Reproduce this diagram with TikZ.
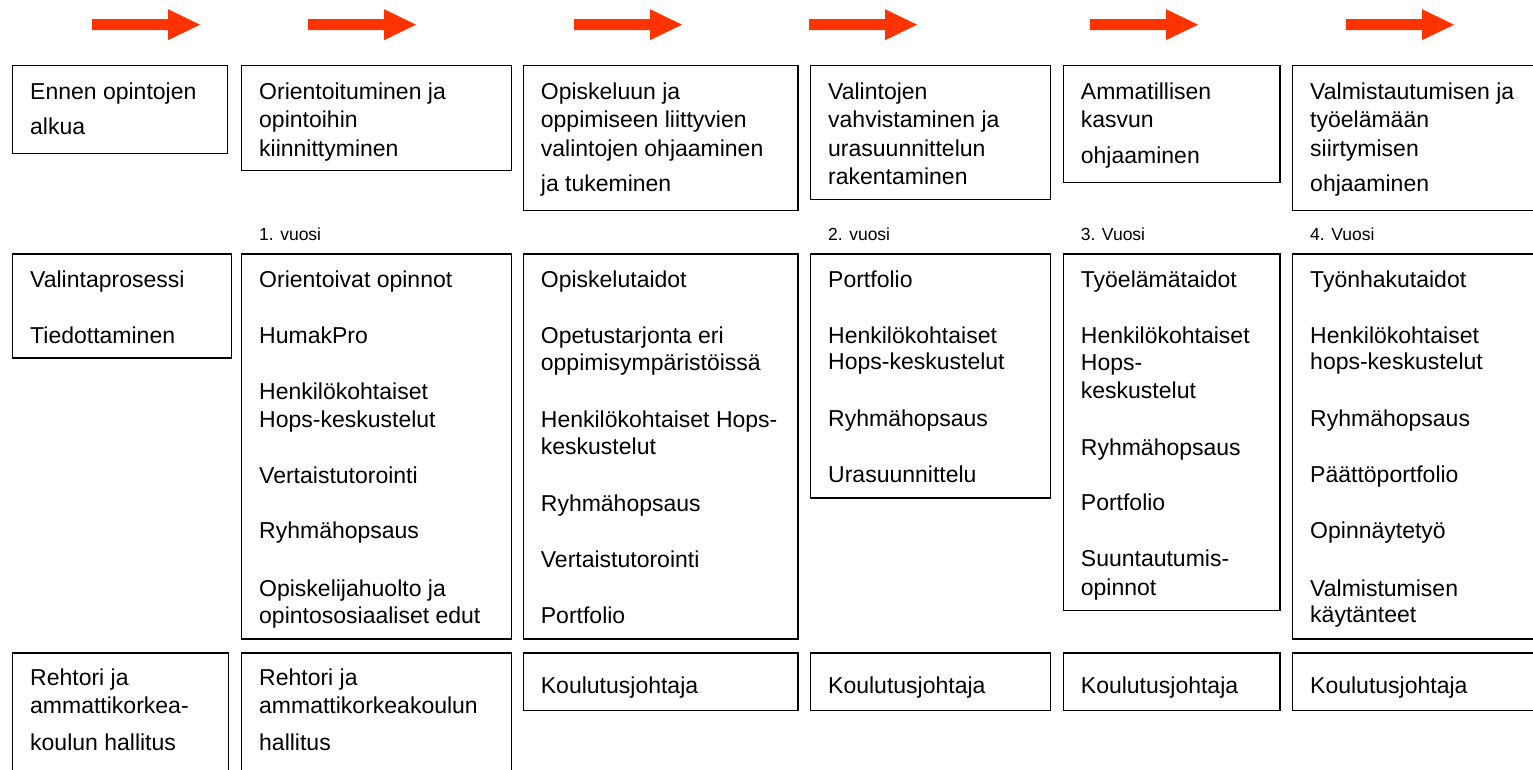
\documentclass[tikz,border=0pt]{standalone}
\usepackage{fontspec}
\setmainfont{Liberation Sans}
\definecolor{arrowred}{RGB}{255,51,0}
\tikzset{
  box/.style={draw, line width=1.2pt, anchor=north west, inner sep=0pt},
  txt/.style={anchor=base west, inner sep=0pt, font=\fontsize{23}{27}\selectfont},
  yr/.style={anchor=base west, inner sep=0pt, font=\fontsize{17.5}{20}\selectfont},
  flow/.style={fill=arrowred}
}
\newcommand\boxlines[3]{\foreach \yv/\ltext [count=\lnum] in {#3} \node[txt] (#1-\lnum) at (#2,\yv) {\ltext};}
\begin{document}
\begin{tikzpicture}[x=1pt,y=-1pt]
\useasboundingbox (0,0) rectangle (1533,770);
\clip (0,0) rectangle (1533,770);
% arrows
\foreach \ax [count=\an] in {92,308,574,809,1090,1346}{
  \coordinate (arr\an) at (\ax,24.5);
  \fill[flow] (arr\an) ++(0,-5.3) -- ++(76,0) -- ++(0,-10) -- ++(32,15.5) -- ++(-32,15.5) -- ++(0,-10) -- ++(-76,0) -- cycle;
}
% row 1
\node[box, minimum width=215pt, minimum height=88pt] (B1) at (12,65) {};
\node[box, minimum width=270pt, minimum height=105pt] (B2) at (241,65) {};
\node[box, minimum width=274.6pt, minimum height=145pt] (B3) at (522.7,65) {};
\node[box, minimum width=240pt, minimum height=134pt] (B4) at (810,65) {};
\node[box, minimum width=216.6pt, minimum height=116.7pt] (B5) at (1062.7,65) {};
\node[box, minimum width=260pt, minimum height=145pt] (B6) at (1292,65) {};
\boxlines{b1}{30}{99.3/Ennen opintojen, 135/alkua}
\boxlines{b2}{259}{99.3/Orientoituminen ja, 127.7/opintoihin, 156.7/kiinnittyminen}
\boxlines{b3}{540.7}{99.3/Opiskeluun ja, 127.7/oppimiseen liittyvien, 156.7/valintojen ohjaaminen, 191.7/ja tukeminen}
\boxlines{b4}{828}{99.3/Valintojen, 127.7/vahvistaminen ja, 156.7/urasuunnittelun, 184.3/rakentaminen}
\boxlines{b5}{1080.7}{99.3/Ammatillisen, 127.7/kasvun, 163.3/ohjaaminen}
\boxlines{b6}{1310}{99.3/Valmistautumisen ja, 127.7/työelämään, 156.7/siirtymisen, 191.7/ohjaaminen}
% year labels
\node[yr] (y1) at (259,240) {1. vuosi};
\node[yr] (y2) at (828,240) {2. vuosi};
\node[yr] (y3) at (1080.7,240) {3. Vuosi};
\node[yr] (y4) at (1310,240) {4. Vuosi};
% row 2
\node[box, minimum width=218.7pt, minimum height=104pt] (C1) at (12,253.3) {};
\node[box, minimum width=270pt, minimum height=385pt] (C2) at (241,253.3) {};
\node[box, minimum width=274.6pt, minimum height=385pt] (C3) at (522.7,253.3) {};
\node[box, minimum width=240pt, minimum height=244pt] (C4) at (810,253.3) {};
\node[box, minimum width=216.6pt, minimum height=356.7pt] (C5) at (1062.7,253.3) {};
\node[box, minimum width=260pt, minimum height=385pt] (C6) at (1292,253.3) {};
\boxlines{c1}{30}{287/Valintaprosessi, 343.5/Tiedottaminen}
\boxlines{c2}{259}{287/Orientoivat opinnot, 343/HumakPro, 399.5/Henkilökohtaiset, 427/Hops-keskustelut, 483/Vertaistutorointi, 538.5/Ryhmähopsaus, 596/Opiskelijahuolto ja, 623/opintososiaaliset edut}
\boxlines{c3}{540.7}{287/Opiskelutaidot, 343/Opetustarjonta eri, 370/oppimisympäristöissä, 427/Henkilökohtaiset Hops-, 454.5/keskustelut, 511/Ryhmähopsaus, 567/Vertaistutorointi, 623/Portfolio}
\boxlines{c4}{828}{287/Portfolio, 343/Henkilökohtaiset, 369.5/Hops-keskustelut, 426.7/Ryhmähopsaus, 482.7/Urasuunnittelu}
\boxlines{c5}{1080.7}{287/Työelämätaidot, 343/Henkilökohtaiset, 370/Hops-, 398.3/keskustelut, 455/Ryhmähopsaus, 510.7/Portfolio, 566.7/Suuntautumis-, 595/opinnot}
\boxlines{c6}{1310}{287/Työnhakutaidot, 343/Henkilökohtaiset, 369.5/hops-keskustelut, 426/Ryhmähopsaus, 482.7/Päättöportfolio, 538.3/Opinnäytetyö, 596/Valmistumisen, 622.7/käytänteet}
% row 3
\node[box, minimum width=216pt, minimum height=140pt] (D1) at (12,652.3) {};
\node[box, minimum width=270pt, minimum height=140pt] (D2) at (241,652.3) {};
\node[box, minimum width=274.6pt, minimum height=57.7pt] (D3) at (522.7,652.3) {};
\node[box, minimum width=240pt, minimum height=57.7pt] (D4) at (810,652.3) {};
\node[box, minimum width=216.6pt, minimum height=57.7pt] (D5) at (1062.7,652.3) {};
\node[box, minimum width=260pt, minimum height=57.7pt] (D6) at (1292,652.3) {};
\boxlines{d1}{30}{685/Rehtori ja, 713.3/ammattikorkea-, 750/koulun hallitus}
\boxlines{d2}{259}{685/Rehtori ja, 713.3/ammattikorkeakoulun, 750/hallitus}
\boxlines{d3}{540.7}{693.3/Koulutusjohtaja}
\boxlines{d4}{828}{693.3/Koulutusjohtaja}
\boxlines{d5}{1080.7}{693.3/Koulutusjohtaja}
\boxlines{d6}{1310}{693.3/Koulutusjohtaja}
\end{tikzpicture}
\end{document}
